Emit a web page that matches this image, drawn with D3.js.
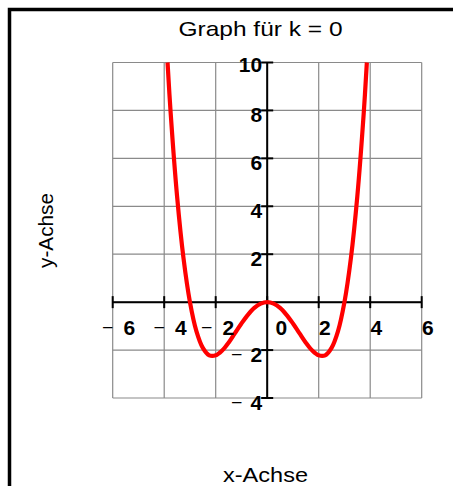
<!DOCTYPE html>
<html>
<head>
<meta charset="utf-8">
<script src="https://cdn.jsdelivr.net/npm/d3@7"></script>
<style>
  html, body { margin: 0; padding: 0; background: #fff; }
  svg { display: block; }
  text { font-family: Arial, "Liberation Sans", Helvetica, sans-serif; }
</style>
</head>
<body>
<svg id="chart" width="453" height="486"></svg>
<script>
// Sampled points of the curve for k = 0
const curveX = [-3.87, -3.75, -3.5, -3.25, -3, -2.75, -2.5, -2.25, -2, -1.75, -1.5, -1.25, -1, -0.75, -0.5, -0.25, 0,
                0.25, 0.5, 0.75, 1, 1.25, 1.5, 1.75, 2, 2.25, 2.5, 2.75, 3, 3.25, 3.5, 3.75, 3.87];
const curveY = [10, 7.91, 4.42, 1.83, 0, -1.21, -1.91, -2.22, -2.22, -2.02, -1.69, -1.29, -0.89, -0.53, -0.24, -0.06, 0,
                -0.06, -0.24, -0.53, -0.89, -1.29, -1.69, -2.02, -2.22, -2.22, -1.91, -1.21, 0, 1.83, 4.42, 7.91, 10];

const xTicks = [-6, -4, -2, 0, 2, 4, 6];
const yTicks = [-4, -2, 2, 4, 6, 8, 10];
const yGrid = [-4, -2, 0, 2, 4, 6, 8, 10];

const titleText = "Graph f\u00fcr k = 0";
const xTitle = "x-Achse";
const yTitle = "y-Achse";

const svg = d3.select("#chart");

const x = d3.scaleLinear().domain([-6, 6]).range([112.7, 421.7]);
const y = d3.scaleLinear().domain([-4, 10]).range([398, 62.5]);

// outer frame (top and left edges)
svg.append("path")
  .attr("d", "M9.5,486 V9.5 H453")
  .attr("fill", "none")
  .attr("stroke", "#000")
  .attr("stroke-width", 3.5);

// grid
const grid = svg.append("g").attr("stroke", "#8a8a8a").attr("stroke-width", 1.2);
grid.selectAll("line.v").data(xTicks).join("line")
  .attr("class", "v")
  .attr("x1", d => x(d)).attr("x2", d => x(d))
  .attr("y1", y(-4)).attr("y2", y(10));
grid.selectAll("line.h").data(yGrid).join("line")
  .attr("class", "h")
  .attr("x1", x(-6)).attr("x2", x(6))
  .attr("y1", d => y(d)).attr("y2", d => y(d));

// axes
const axes = svg.append("g").attr("stroke", "#000").attr("stroke-width", 2);
axes.append("line").attr("x1", x(-6)).attr("x2", x(6)).attr("y1", y(0)).attr("y2", y(0));
axes.append("line").attr("x1", x(0)).attr("x2", x(0)).attr("y1", y(-4)).attr("y2", y(10));
axes.selectAll("line.xt").data(xTicks).join("line")
  .attr("class", "xt")
  .attr("x1", d => x(d)).attr("x2", d => x(d))
  .attr("y1", y(0) - 6).attr("y2", y(0) + 6);
axes.selectAll("line.yt").data(yTicks).join("line")
  .attr("class", "yt")
  .attr("x1", x(0) - 6).attr("x2", x(0) + 6)
  .attr("y1", d => y(d)).attr("y2", d => y(d));

// curve
const line = d3.line()
  .x((d, i) => x(curveX[i]))
  .y(d => y(d))
  .curve(d3.curveCatmullRom.alpha(0.5));
svg.append("path")
  .attr("d", line(curveY))
  .attr("fill", "none")
  .attr("stroke", "#ff0000")
  .attr("stroke-width", 4.2)
  .attr("stroke-linejoin", "round");

// tick label: thin raised dash for negatives, then the bold digits
function tickLabel(sel, v, gap) {
  if (v < 0) {
    sel.append("tspan").attr("font-weight", "normal").attr("font-size", 17).attr("dy", -3).text("\u2013");
    sel.append("tspan").attr("dx", gap).attr("dy", 3).attr("font-weight", "bold").text(Math.abs(v));
  } else {
    sel.append("tspan").attr("font-weight", "bold").text(v);
  }
}

// x tick labels: right edge of the digit placed relative to the tick
svg.selectAll("text.xl").data(xTicks).join("text")
  .attr("class", "xl")
  .attr("x", d => x(d) + (d < 0 ? (d === -2 ? 18.5 : 22.5) : d === 0 ? 20 : 12))
  .attr("y", y(0) + 33)
  .attr("text-anchor", "end")
  .attr("font-size", 21)
  .each(function (d) { tickLabel(d3.select(this), d, 11); });

svg.selectAll("text.yl").data(yTicks).join("text")
  .attr("class", "yl")
  .attr("x", x(0) - 5)
  .attr("y", d => y(d) + (d === 10 ? 9.5 : 12))
  .attr("text-anchor", "end")
  .attr("font-size", 21)
  .each(function (d) { tickLabel(d3.select(this), d, 9); });

// titles
svg.append("text")
  .attr("x", 260.5).attr("y", 36)
  .attr("text-anchor", "middle")
  .attr("font-size", 21)
  .attr("textLength", 164)
  .attr("lengthAdjust", "spacingAndGlyphs")
  .text(titleText);

svg.append("text")
  .attr("x", 265.5).attr("y", 481.5)
  .attr("text-anchor", "middle")
  .attr("font-size", 21)
  .attr("textLength", 85)
  .attr("lengthAdjust", "spacingAndGlyphs")
  .text(xTitle);

svg.append("text")
  .attr("transform", "translate(53,230.5) rotate(-90)")
  .attr("text-anchor", "middle")
  .attr("font-size", 20)
  .attr("textLength", 75)
  .attr("lengthAdjust", "spacingAndGlyphs")
  .text(yTitle);
</script>
</body>
</html>
